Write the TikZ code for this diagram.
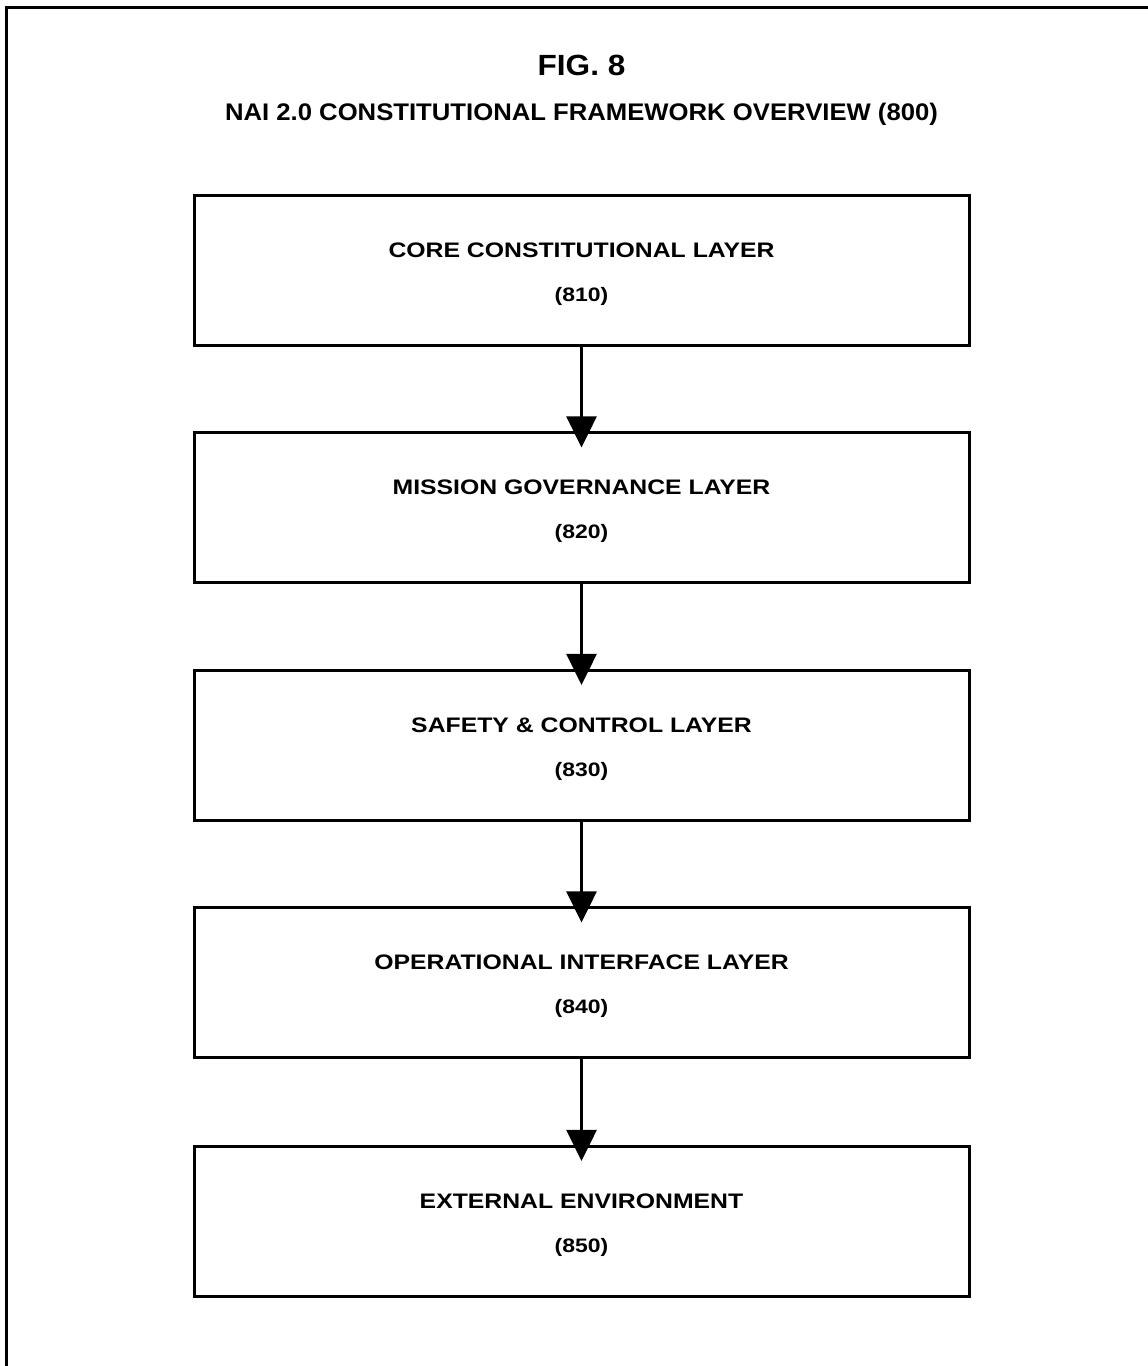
\documentclass[tikz,border=0pt]{standalone}
\usepackage{fontspec}
\setmainfont{Liberation Sans}
\newfontfamily\boxfont{Liberation Sans}[FakeStretch=1.18]
\newfontfamily\headfont{Liberation Sans}[FakeStretch=1.07]
\newfontfamily\figfont{Liberation Sans}[FakeStretch=1.08]
\usetikzlibrary{arrows.meta}
\begin{document}
\begin{tikzpicture}[x=0.75pt,y=-0.75pt,
  layerbox/.style={draw=black, line width=2.25pt, minimum width=581.25pt,
    minimum height=112.5pt, inner sep=0pt},
  layertitle/.style={anchor=base, inner sep=0pt, font=\boxfont\bfseries\fontsize{15.75pt}{18pt}\selectfont},
  layernum/.style={anchor=base, inner sep=0pt, font=\boxfont\bfseries\fontsize{14.6pt}{17pt}\selectfont},
  flow/.style={line width=2.25pt, -{Triangle[width=22.5pt,length=23.25pt]}}]
  % page area and outer frame
  \clip (0,0) rectangle (1148,1366);
  \fill[white] (0,0) rectangle (1148,1366);
  \draw[line width=2.25pt] (6.5,1400) -- (6.5,7.5) -- (1180,7.5);

  % heading
  \node[anchor=base, inner sep=0pt, font=\figfont\bfseries\fontsize{21.9pt}{24pt}\selectfont] (fig) at (581.5,76) {FIG. 8};
  \node[anchor=base, inner sep=0pt, font=\headfont\bfseries\fontsize{18pt}{20pt}\selectfont] (head) at (581.5,121) {NAI 2.0 CONSTITUTIONAL FRAMEWORK OVERVIEW (800)};

  % layers
  \foreach \n/\y/\t/\c in {810/270/CORE CONSTITUTIONAL LAYER/l1,
                           820/507.5/MISSION GOVERNANCE LAYER/l2,
                           830/745/SAFETY \& CONTROL LAYER/l3,
                           840/982.5/OPERATIONAL INTERFACE LAYER/l4,
                           850/1221/EXTERNAL ENVIRONMENT/l5} {
    \node[layerbox] (\c) at (581.5,\y) {};
    \node[layertitle] (\c t) at (581.5,\y-13) {\t};
    \node[layernum] (\c n) at (581.5,\y+31) {(\n)};
  }

  % connectors
  \foreach \a/\b in {l1/l2, l2/l3, l3/l4, l4/l5}
    \draw[flow] (\a.south) -- ([yshift=-12.3pt]\b.north);
\end{tikzpicture}
\end{document}
